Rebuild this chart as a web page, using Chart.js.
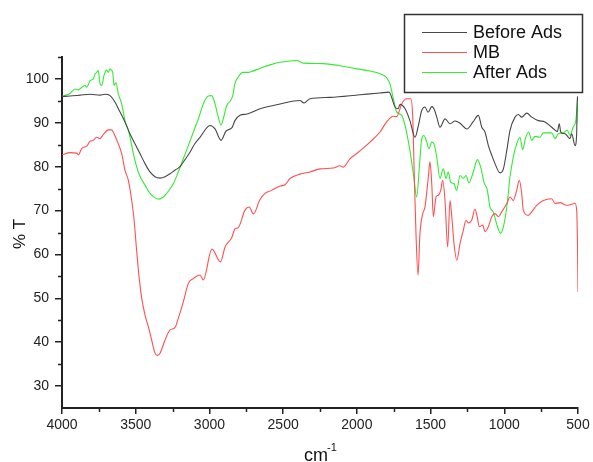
<!DOCTYPE html>
<html>
<head>
<meta charset="utf-8">
<title>FTIR spectra</title>
<script src="https://cdn.jsdelivr.net/npm/chart.js@4.4.0/dist/chart.umd.min.js"></script>
<style>
  html, body { margin: 0; padding: 0; background: #fff; }
  #ftir { display: block; }
</style>
</head>
<body>
<canvas id="ftir" width="593" height="462"></canvas>
<script>
// Wavenumber (cm-1) and transmittance (%T) for each spectrum
const beforeWn = [4000,3946,3878,3810,3742,3708,3674,3640,3607,3573,3539,3505,3471,3437,3403,3369,3335,3301,3267,3234,3200,3166,3132,3098,3064,2996,2962,2921,2888,2847,2827,2793,2745,2657,2521,2386,2359,2318,2182,1979,1843,1782,1741,1721,1707,1673,1640,1606,1585,1560,1538,1517,1492,1477,1458,1436,1402,1368,1334,1300,1253,1212,1176,1153,1131,1108,1085,1063,1029,1006,983,961,927,904,882,848,814,769,724,678,640,627,617,588,554,543,520,509,505,500];
const beforeT = [96.0,96.1,96.3,96.5,96.3,96.5,96.2,94.7,92.5,90.2,87.5,85.2,83.0,80.7,78.8,77.7,77.4,77.7,78.4,79.2,80.0,81.6,83.3,85.3,86.7,89.4,88.6,86.0,88.1,88.9,90.5,91.7,92.0,93.2,94.3,95.1,94.5,95.5,95.8,96.4,96.8,97.0,93.6,93.2,94.2,93.2,90.5,86.7,89.0,92.8,93.6,92.4,93.7,93.2,91.3,89.0,90.9,89.8,90.4,89.9,88.6,90.2,91.7,89.0,87.9,84.8,82.6,80.7,78.6,79.5,83.7,88.3,91.3,91.9,91.3,92.2,91.3,90.5,90.2,89.0,88.0,89.8,87.9,87.5,86.4,87.5,84.8,87.5,96.0,95.0];

const mbWn = [4000,3946,3900,3889,3866,3832,3810,3788,3765,3742,3720,3686,3663,3647,3618,3595,3573,3550,3527,3512,3493,3476,3459,3437,3415,3392,3369,3354,3335,3301,3267,3234,3211,3177,3143,3109,3064,3042,2983,2925,2894,2849,2827,2804,2759,2730,2702,2657,2623,2578,2521,2487,2453,2386,2318,2250,2160,2114,2092,2047,2001,1911,1843,1798,1753,1730,1696,1662,1635,1621,1612,1599,1585,1572,1553,1538,1515,1504,1492,1481,1463,1447,1431,1418,1402,1384,1368,1356,1341,1322,1300,1278,1260,1244,1221,1199,1185,1169,1146,1131,1108,1085,1063,1040,1017,983,961,939,916,898,882,871,837,814,780,735,678,656,622,577,520,509,503,500];
const mbT = [82.7,83.2,83.1,82.7,84.2,84.7,85.8,86.0,86.7,86.4,87.3,88.4,88.4,87.5,85.2,83.0,79.2,76.9,72.3,68.2,60.6,54.5,50.0,46.2,43.6,40.5,37.5,37.0,37.5,40.5,42.8,43.3,45.5,49.2,53.4,54.5,55.3,54.2,61.2,58.3,61.7,63.8,65.8,66.1,70.1,70.8,69.2,72.5,73.9,74.6,75.6,75.9,77.3,78.3,78.8,79.5,79.7,80.2,79.9,81.8,83.0,85.6,87.9,90.2,91.5,91.4,94.3,95.5,95.5,91.3,79.9,64.8,55.3,64.8,69.3,70.8,77.7,81.1,76.1,68.6,73.1,73.5,74.6,76.9,72.3,61.7,72.3,68.6,62.5,58.7,62.5,65.5,67.8,67.2,67.8,70.3,68.8,66.3,66.7,65.2,66.3,68.6,69.3,68.6,69.7,71.6,73.1,72.3,74.6,76.9,73.9,70.1,68.9,69.7,71.2,72.3,72.7,71.6,71.8,71.2,71.6,70.1,61.0,51.5];

const afterWn = [4000,3946,3912,3889,3866,3844,3832,3810,3788,3776,3765,3754,3742,3731,3715,3697,3686,3674,3663,3656,3647,3634,3618,3595,3573,3550,3534,3516,3493,3471,3437,3403,3369,3347,3313,3279,3245,3211,3177,3143,3109,3075,3042,3008,2985,2962,2940,2921,2906,2883,2856,2842,2827,2804,2770,2736,2713,2657,2589,2521,2453,2408,2363,2228,2114,2001,1911,1843,1798,1775,1753,1730,1696,1673,1640,1617,1594,1576,1560,1545,1526,1511,1492,1477,1458,1436,1414,1395,1380,1364,1341,1323,1300,1278,1260,1240,1210,1183,1160,1138,1115,1097,1075,1052,1025,1006,983,961,939,916,894,875,857,835,814,792,758,735,678,656,633,600,573,554,533,515,505,501,500];
const afterT = [96.0,96.7,97.7,97.5,98.1,98.5,98.1,99.6,100.0,101.1,101.5,101.9,98.9,98.5,100.8,102.0,101.5,102.3,101.9,101.5,98.5,99.2,96.6,94.3,90.5,88.3,86.0,83.0,79.9,77.8,75.8,73.9,72.9,72.6,73.1,74.4,76.1,78.8,81.8,84.8,87.9,90.9,94.3,96.1,96.2,94.3,91.3,89.5,90.9,93.9,95.1,96.2,98.9,100.5,101.5,101.5,101.7,102.4,103.2,103.8,104.1,104.2,103.6,103.5,103.0,102.3,101.8,101.2,100.3,98.8,95.6,92.5,91.7,89.4,83.7,78.4,73.1,79.9,86.4,87.1,85.6,84.1,85.6,85.2,82.2,77.3,79.5,77.3,78.8,76.5,76.1,74.6,78.0,77.3,78.0,76.3,78.8,81.6,79.9,76.5,74.6,70.8,69.7,67.0,64.8,66.3,70.8,77.7,82.2,85.2,86.7,83.9,86.4,87.9,86.0,86.9,86.7,87.7,87.7,86.4,87.5,87.7,88.3,87.1,89.0,90.5,94.3,95.8,90.0];

const seriesNames = ['Before Ads', 'MB', 'After Ads'];
const xTicks = [4000, 3500, 3000, 2500, 2000, 1500, 1000, 500];
const yTicks = [30, 40, 50, 60, 70, 80, 90, 100];
const xMinor = [3750, 3250, 2750, 2250, 1750, 1250, 750];
const yMinor = [35, 45, 55, 65, 75, 85, 95, 105];

const FONT = '"Liberation Sans", Arial, sans-serif';
const AXIS = '#222';

function toPoints(wn, t) {
    return wn.map((w, i) => ({ x: w, y: t[i] }));
}

function line(label, wn, t, color) {
    return {
        label: label,
        data: toPoints(wn, t),
        borderColor: color,
        borderWidth: 1.1,
        pointRadius: 0,
        fill: false,
        cubicInterpolationMode: 'monotone'
    };
}

// minor ticks, axis titles and the boxed legend
const decorations = {
    id: 'decorations',
    afterDraw(chart) {
        const { ctx, chartArea, scales } = chart;
        ctx.save();

        ctx.strokeStyle = AXIS;
        ctx.lineWidth = 1.5;
        ctx.beginPath();
        yMinor.forEach(v => {
            const py = Math.round(scales.y.getPixelForValue(v)) + 0.5;
            ctx.moveTo(chartArea.left - 4, py);
            ctx.lineTo(chartArea.left, py);
        });
        xMinor.forEach(v => {
            const px = Math.round(scales.x.getPixelForValue(v)) + 0.5;
            ctx.moveTo(px, chartArea.bottom);
            ctx.lineTo(px, chartArea.bottom + 4);
        });
        ctx.stroke();

        // y title
        ctx.fillStyle = '#111';
        ctx.font = '17px ' + FONT;
        ctx.textAlign = 'center';
        ctx.textBaseline = 'middle';
        ctx.save();
        ctx.translate(20, 234);
        ctx.rotate(-Math.PI / 2);
        ctx.fillText('% T', 0, 0);
        ctx.restore();

        // x title with superscript
        ctx.textAlign = 'left';
        ctx.textBaseline = 'alphabetic';
        ctx.font = '18px ' + FONT;
        ctx.fillText('cm', 304, 461);
        ctx.font = '11px ' + FONT;
        ctx.fillText('-1', 327, 451);

        // legend
        const bx = 404, by = 14, bw = 178, bh = 78;
        ctx.fillStyle = '#fff';
        ctx.fillRect(bx, by, bw, bh);
        ctx.strokeStyle = '#333';
        ctx.lineWidth = 1.5;
        ctx.strokeRect(bx + 0.5, by + 0.5, bw, bh);
        ctx.font = '18px ' + FONT;
        ctx.textBaseline = 'middle';
        chart.data.datasets.forEach((ds, i) => {
            const cy = 32 + i * 20;
            ctx.strokeStyle = ds.borderColor;
            ctx.lineWidth = 1.1;
            ctx.beginPath();
            ctx.moveTo(422, cy + 0.5);
            ctx.lineTo(467, cy + 0.5);
            ctx.stroke();
            ctx.fillStyle = '#111';
            ctx.fillText(ds.label, 473, cy + 1);
        });

        ctx.restore();
    }
};

const tickFont = { family: FONT, size: 14 };

new Chart(document.getElementById('ftir'), {
    type: 'line',
    data: {
        datasets: [
            line(seriesNames[0], beforeWn, beforeT, 'rgb(70,70,70)'),
            line(seriesNames[1], mbWn, mbT, 'rgb(255,80,80)'),
            line(seriesNames[2], afterWn, afterT, 'rgb(50,235,50)')
        ]
    },
    options: {
        responsive: false,
        animation: false,
        layout: { padding: { top: 57, right: 15, left: 0, bottom: 0 } },
        plugins: {
            legend: { display: false },
            tooltip: { enabled: false }
        },
        scales: {
            x: {
                type: 'linear',
                reverse: true,
                min: 500,
                max: 4000,
                afterBuildTicks: s => { s.ticks = xTicks.map(v => ({ value: v })); },
                afterFit: s => { s.height = 54; },
                ticks: { font: tickFont, color: AXIS, padding: 3, maxRotation: 0, autoSkip: false, callback: v => String(v) },
                grid: { display: true, drawOnChartArea: false, drawTicks: true, tickLength: 6, color: AXIS, lineWidth: 1.5 },
                border: { display: true, color: AXIS, width: 2 }
            },
            y: {
                type: 'linear',
                min: 25,
                max: 105,
                afterBuildTicks: s => { s.ticks = yTicks.map(v => ({ value: v })); },
                afterFit: s => { s.width = 62; },
                ticks: { font: tickFont, color: AXIS, padding: 6, callback: v => String(v) },
                grid: { display: true, drawOnChartArea: false, drawTicks: true, tickLength: 7, color: AXIS, lineWidth: 1.5 },
                border: { display: true, color: AXIS, width: 2 }
            }
        }
    },
    plugins: [decorations]
});
</script>
</body>
</html>
